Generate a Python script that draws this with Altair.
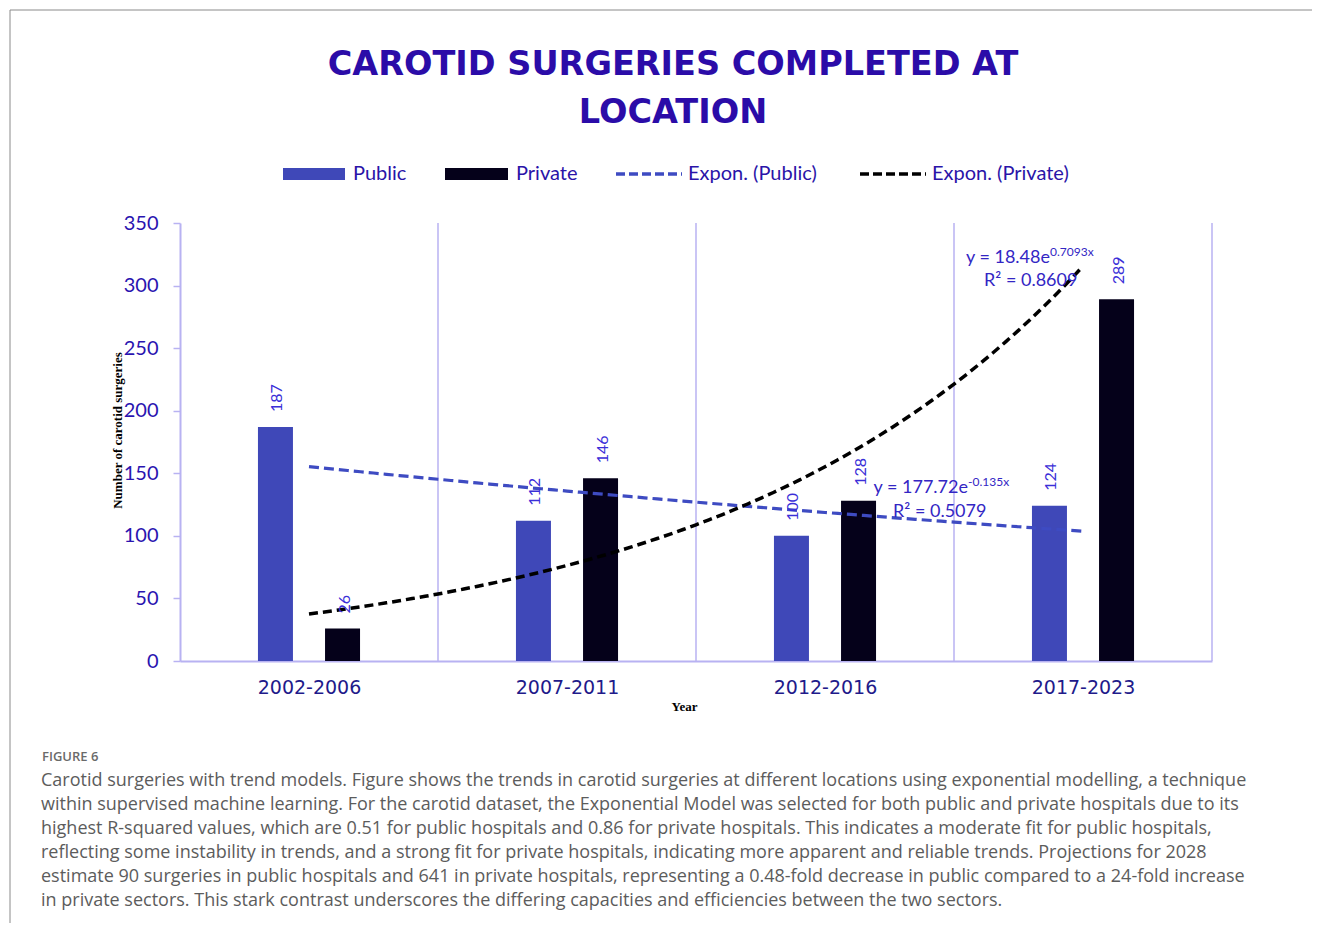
import altair as alt
import numpy as np
import pandas as pd

# ---------------- data ----------------
periods = ["2002-2006", "2007-2011", "2012-2016", "2017-2023"]
public = [187, 112, 100, 124]
private = [26, 146, 128, 289]
y_ticks = [0, 50, 100, 150, 200, 250, 300, 350]

title_lines = ["CAROTID SURGERIES COMPLETED AT", "LOCATION"]
legend_labels = ["Public", "Private", "Expon. (Public)", "Expon. (Private)"]
public_eq = ["y = 177.72e", "-0.135x", "R\u00b2 = 0.5079"]
private_eq = ["y = 18.48e", "0.7093x", "R\u00b2 = 0.8609"]
x_title = "Year"
y_title = "Number of carotid surgeries"
caption_head = "FIGURE 6"
caption_lines = [
    "Carotid surgeries with trend models. Figure shows the trends in carotid surgeries at different locations using exponential modelling, a technique",
    "within supervised machine learning. For the carotid dataset, the Exponential Model was selected for both public and private hospitals due to its",
    "highest R-squared values, which are 0.51 for public hospitals and 0.86 for private hospitals. This indicates a moderate fit for public hospitals,",
    "reflecting some instability in trends, and a strong fit for private hospitals, indicating more apparent and reliable trends. Projections for 2028",
    "estimate 90 surgeries in public hospitals and 641 in private hospitals, representing a 0.48-fold decrease in public compared to a 24-fold increase",
    "in private sectors. This stark contrast underscores the differing capacities and efficiencies between the two sectors.",
]

# ---------------- styles ----------------
C_PUB = "#3F48B8"
C_PRI = "#05011A"
C_PUB_TREND = "#3E4BC2"
C_LAV = "#B8B2F2"
C_TITLE = "#2B0CA8"
C_TICK = "#2A14B0"
C_LEG = "#2A14A8"
C_XLAB = "#211A8A"
C_DLAB = "#3B2FD8"
C_EQ = "#3326C4"
C_CAP = "#5c5c5c"

W, H = 1032, 438

idx = np.arange(1, len(periods) + 1)
rows = []
for i, p in enumerate(periods):
    rows.append({"period": p, "series": "Public", "pos": idx[i] - 0.13, "value": public[i]})
    rows.append({"period": p, "series": "Private", "pos": idx[i] + 0.13, "value": private[i]})
bars_df = pd.DataFrame(rows)
bounds_df = pd.DataFrame({"b": idx + 0.5})

# exponential least-squares fits (as Excel's trendline: linear fit of ln y)
b_pub, lna_pub = np.polyfit(idx, np.log(public), 1)
b_pri, lna_pri = np.polyfit(idx, np.log(private), 1)
a_pub, a_pri = float(np.exp(lna_pub)), float(np.exp(lna_pri))

xscale = alt.Scale(domain=[0.5, 4.5], nice=False, zero=False, padding=0)
yscale = alt.Scale(domain=[0, 350], nice=False, padding=0)

label_expr = "[" + ",".join("'%s'" % p for p in periods) + "][datum.value - 1]"
xaxis = alt.Axis(
    values=[int(v) for v in idx], labelExpr=label_expr, ticks=False, tickSize=0, grid=False,
    domainColor=C_LAV, domainWidth=2, labelFont="DejaVu Sans", labelFontSize=19,
    labelColor=C_XLAB, labelPadding=17, title=x_title, titleFont="Liberation Serif",
    titleFontSize=13, titleFontWeight="bold", titleColor="#000000", titleX=504, titleY=45,
    titleBaseline="middle", titleAlign="center",
)
yaxis = alt.Axis(
    values=y_ticks, tickSize=7, tickColor=C_LAV, tickWidth=1.5, grid=False,
    domainColor=C_LAV, domainWidth=2, labelFont="Lato", labelFontSize=20,
    labelColor=C_TICK, labelPadding=15, title=y_title, titleFont="Liberation Serif",
    titleFontSize=13, titleFontWeight="bold", titleColor="#000000", titleX=-63, titleY=207,
    titleAngle=270, titleBaseline="middle", titleAlign="center",
)


def X(field):
    return alt.X(field, type="quantitative", scale=xscale, axis=xaxis)


def Y(field):
    return alt.Y(field, type="quantitative", scale=yscale, axis=yaxis)


one = pd.DataFrame({"k": [0]})


def txt(x, y, text, **kw):
    kw.setdefault("baseline", "middle")
    return alt.Chart(one).mark_text(**kw).encode(
        x=alt.value(x), y=alt.value(y), text=alt.value(text)
    )


# vertical boundary lines
bounds = alt.Chart(bounds_df).mark_rule(color=C_LAV, strokeWidth=1.5).encode(x=X("b"))

bars = alt.Chart(bars_df).mark_bar(width=35).encode(
    x=X("pos"),
    y=Y("value"),
    color=alt.Color("series:N", scale=alt.Scale(domain=["Public", "Private"], range=[C_PUB, C_PRI]), legend=None),
)

labels = alt.Chart(bars_df).mark_text(
    angle=270, align="left", baseline="middle", dx=15, dy=2, font="Lato", fontSize=16, color=C_DLAB
).encode(x=X("pos"), y=Y("value"), text=alt.Text("value:Q"))


def trend(a, b, color, width, dash):
    return (
        alt.Chart(alt.sequence(1, 4.0001, 0.05, as_="t"))
        .transform_calculate(v="%f * exp(%f * datum.t)" % (a, b))
        .mark_line(color=color, strokeWidth=width, strokeDash=dash)
        .encode(x=X("t"), y=Y("v"))
    )


trend_pub = trend(a_pub, b_pub, C_PUB_TREND, 3.2, [10, 5])
trend_pri = trend(a_pri, b_pri, "#000000", 3.5, [9, 5])

# equations
eq = [
    txt(870, 35, private_eq[0], align="right", font="Lato", fontSize=18, color=C_EQ),
    txt(870, 29, private_eq[1], align="left", font="Lato", fontSize=12, color=C_EQ),
    txt(804, 58, private_eq[2], align="left", font="Lato", fontSize=18, color=C_EQ),
    txt(788, 265, public_eq[0], align="right", font="Lato", fontSize=18, color=C_EQ),
    txt(788, 259, public_eq[1], align="left", font="Lato", fontSize=12, color=C_EQ),
    txt(713, 289, public_eq[2], align="left", font="Lato", fontSize=18, color=C_EQ),
]

# title
title = [
    txt(493, -158, title_lines[0], align="center", font="DejaVu Sans", fontSize=33.5, fontWeight="bold", color=C_TITLE),
    txt(493, -110, title_lines[1], align="center", font="DejaVu Sans", fontSize=33.5, fontWeight="bold", color=C_TITLE),
]

# legend
ly = -49
legend = [
    alt.Chart(one).mark_rect(color=C_PUB).encode(x=alt.value(103), x2=alt.value(165), y=alt.value(ly - 6), y2=alt.value(ly + 6)),
    txt(173, ly, legend_labels[0], align="left", font="Lato", fontSize=20, color=C_LEG),
    alt.Chart(one).mark_rect(color=C_PRI).encode(x=alt.value(265), x2=alt.value(328), y=alt.value(ly - 6), y2=alt.value(ly + 6)),
    txt(336, ly, legend_labels[1], align="left", font="Lato", fontSize=20, color=C_LEG),
    alt.Chart(one).mark_rule(color=C_PUB_TREND, strokeWidth=3.5, strokeDash=[9, 4]).encode(x=alt.value(436), x2=alt.value(502), y=alt.value(ly)),
    txt(508, ly, legend_labels[2], align="left", font="Lato", fontSize=20, color=C_LEG),
    alt.Chart(one).mark_rule(color="#000000", strokeWidth=3.5, strokeDash=[9, 4]).encode(x=alt.value(680), x2=alt.value(746), y=alt.value(ly)),
    txt(752, ly, legend_labels[3], align="left", font="Lato", fontSize=20, color=C_LEG),
]

# frame
frame = [
    alt.Chart(one).mark_rule(color="#8a8a8a", strokeWidth=1).encode(x=alt.value(-170), x2=alt.value(1140), y=alt.value(-213)),
    alt.Chart(one).mark_rule(color="#8a8a8a", strokeWidth=1).encode(x=alt.value(-170), y=alt.value(-213), y2=alt.value(720)),
]

# caption
caption = [
    txt(-138, 534, caption_head, align="left", font="Open Sans", fontSize=13, fontWeight=600, color="#6a6a6a"),
    txt(-139, 558, caption_lines, align="left", font="Open Sans", fontSize=18, lineHeight=24, color=C_CAP),
]

chart = alt.layer(
    bounds, bars, trend_pub, trend_pri, labels, *eq, *title, *legend, *frame, *caption
).properties(
    width=W, height=H,
    autosize=alt.AutoSizeParams(type="none"),
    padding={"left": 172, "top": 215, "right": 100, "bottom": 262},
).configure_view(stroke=None)

chart.save("out.html", embed_options={"renderer": "svg", "actions": False})
